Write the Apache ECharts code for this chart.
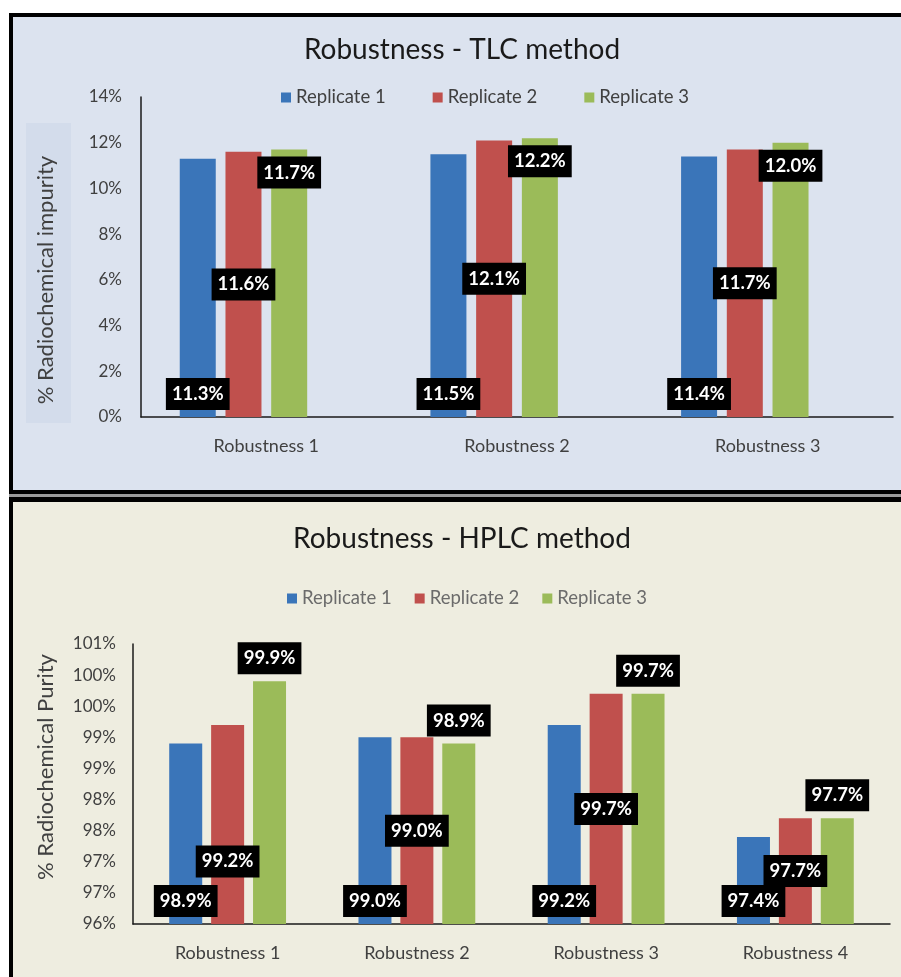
<!DOCTYPE html>
<html>
<head>
<meta charset="utf-8">
<script src="https://cdn.jsdelivr.net/npm/echarts@6/dist/echarts.min.js"></script>
<style>
  html, body { margin: 0; padding: 0; width: 901px; height: 977px; overflow: hidden; background: #ffffff; }
  .panel { position: absolute; box-sizing: border-box; border: 4px solid #000; border-right: none; }
  #panelTop { left: 9px; top: 13px; width: 900px; height: 481px; background: #dce3ef; }
  #panelGap { position: absolute; left: 9px; top: 494px; width: 900px; height: 3px; background: #9a9a9a; }
  #panelBottom { left: 9px; top: 497px; width: 900px; height: 500px; background: #eeede0; border-top-width: 5px; }
  #chart { position: absolute; left: 0; top: 0; width: 901px; height: 977px; }
</style>
</head>
<body>
<div id="panelTop" class="panel"></div>
<div id="panelGap"></div>
<div id="panelBottom" class="panel"></div>
<div id="chart"></div>
<script>
// TLC method: % radiochemical impurity per robustness condition
const tlcCategories = ['Robustness 1', 'Robustness 2', 'Robustness 3'];
const tlcReplicate1 = [11.3, 11.5, 11.4];
const tlcReplicate2 = [11.6, 12.1, 11.7];
const tlcReplicate3 = [11.7, 12.2, 12.0];

// HPLC method: % radiochemical purity per robustness condition
const hplcCategories = ['Robustness 1', 'Robustness 2', 'Robustness 3', 'Robustness 4'];
const hplcReplicate1 = [98.9, 99.0, 99.2, 97.4];
const hplcReplicate2 = [99.2, 99.0, 99.7, 97.7];
const hplcReplicate3 = [99.9, 98.9, 99.7, 97.7];

const seriesNames = ['Replicate 1', 'Replicate 2', 'Replicate 3'];

const FONT = 'Lato, "Noto Sans", sans-serif';
const COLORS = ['#3a75b9', '#c0504d', '#9bbb59'];

// label moved down a little on the first HPLC "Replicate 2" bar
const hplcRep2LabelNudge = { 0: [0, 37] };

const chart = echarts.init(document.getElementById('chart'), null, { renderer: 'canvas' });

function boxLabel(position) {
  return {
    show: true,
    position: position,
    distance: 7,
    formatter: p => p.value.toFixed(1) + '%',
    color: '#ffffff',
    backgroundColor: '#000000',
    fontFamily: FONT,
    fontWeight: 'bold',
    fontSize: 18.5,
    lineHeight: 22,
    padding: [5, 6, 5, 6]
  };
}

const axisLineStyle = { show: true, lineStyle: { color: '#1a1a1a', width: 1.5 } };
const axisText = { fontFamily: FONT, fontSize: 17, color: '#404040' };
const catText = { fontFamily: FONT, fontSize: 18, color: '#404040' };

const option = {
  animation: false,
  backgroundColor: 'transparent',
  textStyle: { fontFamily: FONT },
  title: [
    {
      text: 'Robustness - TLC method',
      left: 462, top: 36, textAlign: 'center', padding: 0,
      textStyle: { fontFamily: FONT, fontSize: 28, fontWeight: 'normal', color: '#1a1a1a' }
    },
    {
      text: 'Robustness - HPLC method',
      left: 462, top: 525, textAlign: 'center', padding: 0,
      textStyle: { fontFamily: FONT, fontSize: 28, fontWeight: 'normal', color: '#1a1a1a' }
    }
  ],
  legend: [
    {
      data: seriesNames, left: 281, top: 88, padding: 0, itemGap: 47,
      icon: 'rect', itemWidth: 10, itemHeight: 10, selectedMode: false,
      textStyle: { fontFamily: FONT, fontSize: 18.5, color: '#404040' }
    },
    {
      data: seriesNames, left: 287, top: 589, padding: 0, itemGap: 23,
      icon: 'rect', itemWidth: 10, itemHeight: 10, selectedMode: false,
      textStyle: { fontFamily: FONT, fontSize: 18.5, color: '#6b6b6b' }
    }
  ],
  graphic: [
    { type: 'rect', shape: { x: 26, y: 123, width: 45, height: 300 }, style: { fill: '#d3dceb' }, silent: true },
    {
      type: 'text', x: 46, y: 280, rotation: Math.PI / 2, silent: true,
      style: { text: '% Radiochemical impurity', font: '22px ' + FONT, fill: '#404040', align: 'center', verticalAlign: 'middle' }
    },
    {
      type: 'text', x: 46, y: 767, rotation: Math.PI / 2, silent: true,
      style: { text: '% Radiochemical Purity', font: '22px ' + FONT, fill: '#404040', align: 'center', verticalAlign: 'middle' }
    }
  ],
  grid: [
    { left: 141, top: 97, width: 752, height: 320 },
    { left: 133, top: 644, width: 757, height: 280 }
  ],
  xAxis: [
    {
      type: 'category', gridIndex: 0, data: tlcCategories,
      axisLine: axisLineStyle, axisTick: { show: false },
      axisLabel: Object.assign({ margin: 20 }, catText)
    },
    {
      type: 'category', gridIndex: 1, data: hplcCategories,
      axisLine: axisLineStyle, axisTick: { show: false },
      axisLabel: Object.assign({ margin: 20 }, catText)
    }
  ],
  yAxis: [
    {
      type: 'value', gridIndex: 0, min: 0, max: 14, interval: 2,
      axisLine: axisLineStyle, axisTick: { show: false }, splitLine: { show: false },
      axisLabel: Object.assign({ margin: 19, formatter: v => v + '%' }, axisText)
    },
    {
      type: 'value', gridIndex: 1, min: 96, max: 100.5, interval: 0.5,
      axisLine: axisLineStyle, axisTick: { show: false }, splitLine: { show: false },
      axisLabel: Object.assign({ margin: 17, formatter: v => Math.round(v) + '%' }, axisText)
    }
  ],
  series: [
    // TLC
    {
      name: seriesNames[0], type: 'bar', xAxisIndex: 0, yAxisIndex: 0,
      data: tlcReplicate1, barWidth: 36, barGap: '27%',
      itemStyle: { color: COLORS[0] }, label: boxLabel('insideBottom')
    },
    {
      name: seriesNames[1], type: 'bar', xAxisIndex: 0, yAxisIndex: 0,
      data: tlcReplicate2, barWidth: 36, barGap: '27%',
      itemStyle: { color: COLORS[1] }, label: boxLabel('inside')
    },
    {
      name: seriesNames[2], type: 'bar', xAxisIndex: 0, yAxisIndex: 0,
      data: tlcReplicate3, barWidth: 36, barGap: '27%',
      itemStyle: { color: COLORS[2] }, label: boxLabel('insideTop')
    },
    {
      // empty fourth slot, keeps the TLC groups left of the category centre
      name: 'slot', type: 'bar', xAxisIndex: 0, yAxisIndex: 0,
      data: [], barWidth: 36, barGap: '27%', silent: true
    },
    // HPLC
    {
      name: seriesNames[0], type: 'bar', xAxisIndex: 1, yAxisIndex: 1,
      data: hplcReplicate1, barWidth: 33, barGap: '27%',
      itemStyle: { color: COLORS[0] }, label: boxLabel('insideBottom')
    },
    {
      name: seriesNames[1], type: 'bar', xAxisIndex: 1, yAxisIndex: 1,
      data: hplcReplicate2.map((v, i) => hplcRep2LabelNudge[i]
        ? { value: v, label: { offset: hplcRep2LabelNudge[i] } } : v),
      barWidth: 33, barGap: '27%',
      itemStyle: { color: COLORS[1] }, label: boxLabel('inside')
    },
    {
      name: seriesNames[2], type: 'bar', xAxisIndex: 1, yAxisIndex: 1,
      data: hplcReplicate3, barWidth: 33, barGap: '27%',
      itemStyle: { color: COLORS[2] }, label: boxLabel('top')
    }
  ]
};

chart.setOption(option);
</script>
</body>
</html>
